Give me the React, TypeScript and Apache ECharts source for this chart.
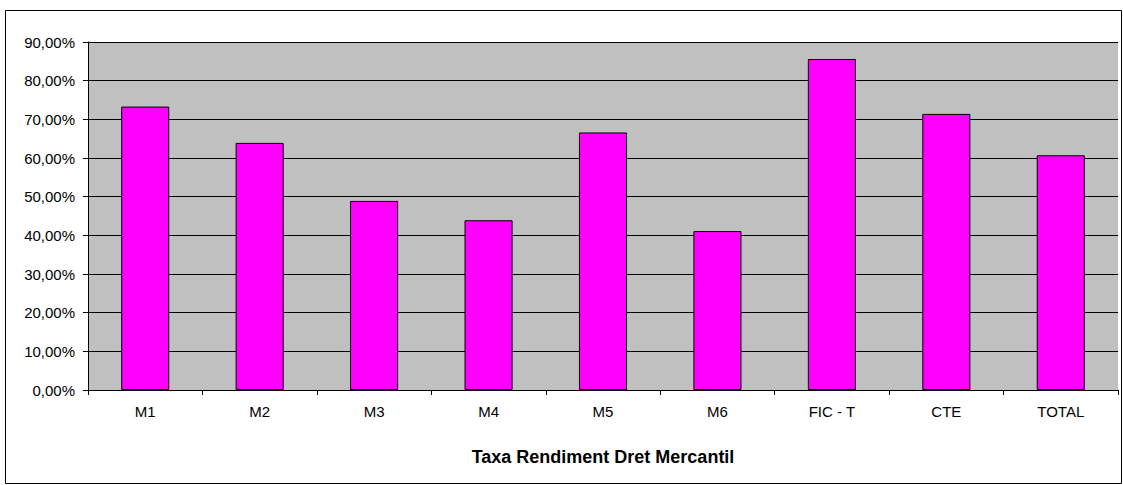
import React, { useEffect, useRef } from "react";
import * as echarts from "echarts";

const categories = ["M1", "M2", "M3", "M4", "M5", "M6", "FIC - T", "CTE", "TOTAL"];
const values = [0.733, 0.639, 0.489, 0.439, 0.666, 0.411, 0.856, 0.714, 0.607];
const axisTitle = "Taxa Rendiment Dret Mercantil";
const yMin = 0;
const yMax = 0.9;
const yInterval = 0.1;

export default function App() {
  const ref = useRef<HTMLDivElement>(null);
  useEffect(() => {
    if (!ref.current) return;
    const chart = echarts.init(ref.current, undefined, { renderer: "svg" });
    const font = "'Liberation Sans', Arial, sans-serif";
    chart.setOption({
      animation: false,
      backgroundColor: "#ffffff",
      grid: {
        left: 88,
        right: 5,
        top: 42,
        bottom: 95,
        show: true,
        backgroundColor: "#C0C0C0",
        borderWidth: 0,
      },
      xAxis: {
        type: "category",
        data: categories,
        name: axisTitle,
        nameLocation: "middle",
        nameGap: 58,
        nameTextStyle: { fontFamily: font, fontSize: 18, fontWeight: "bold", color: "#000" },
        axisLine: { lineStyle: { color: "#000", width: 1 } },
        axisTick: { show: true, length: 5, lineStyle: { color: "#000" } },
        axisLabel: { fontFamily: font, fontSize: 15, color: "#000", margin: 14 },
      },
      yAxis: {
        type: "value",
        min: yMin,
        max: yMax,
        interval: yInterval,
        axisLine: { show: true, lineStyle: { color: "#000", width: 1 } },
        axisTick: { show: true, length: 5, lineStyle: { color: "#000" } },
        axisLabel: {
          fontFamily: font,
          fontSize: 15,
          color: "#000",
          margin: 13,
          formatter: (v: number) => (v * 100).toFixed(2).replace(".", ",") + "%",
        },
        splitLine: { show: true, lineStyle: { color: "#000", width: 1 } },
      },
      series: [
        {
          type: "bar",
          data: values,
          barCategoryGap: "58%",
          itemStyle: { color: "#FF00FF", borderColor: "#000", borderWidth: 1 },
        },
      ],
      graphic: [
        {
          type: "rect",
          shape: { x: 5.5, y: 10.5, width: 1116, height: 473 },
          style: { fill: "none", stroke: "#000", lineWidth: 1 },
          silent: true,
        },
      ],
    });
    return () => chart.dispose();
  }, []);
  return (
    <div
      ref={ref}
      style={{ position: "fixed", left: 0, top: 0, width: 1123, height: 485 }}
    />
  );
}
